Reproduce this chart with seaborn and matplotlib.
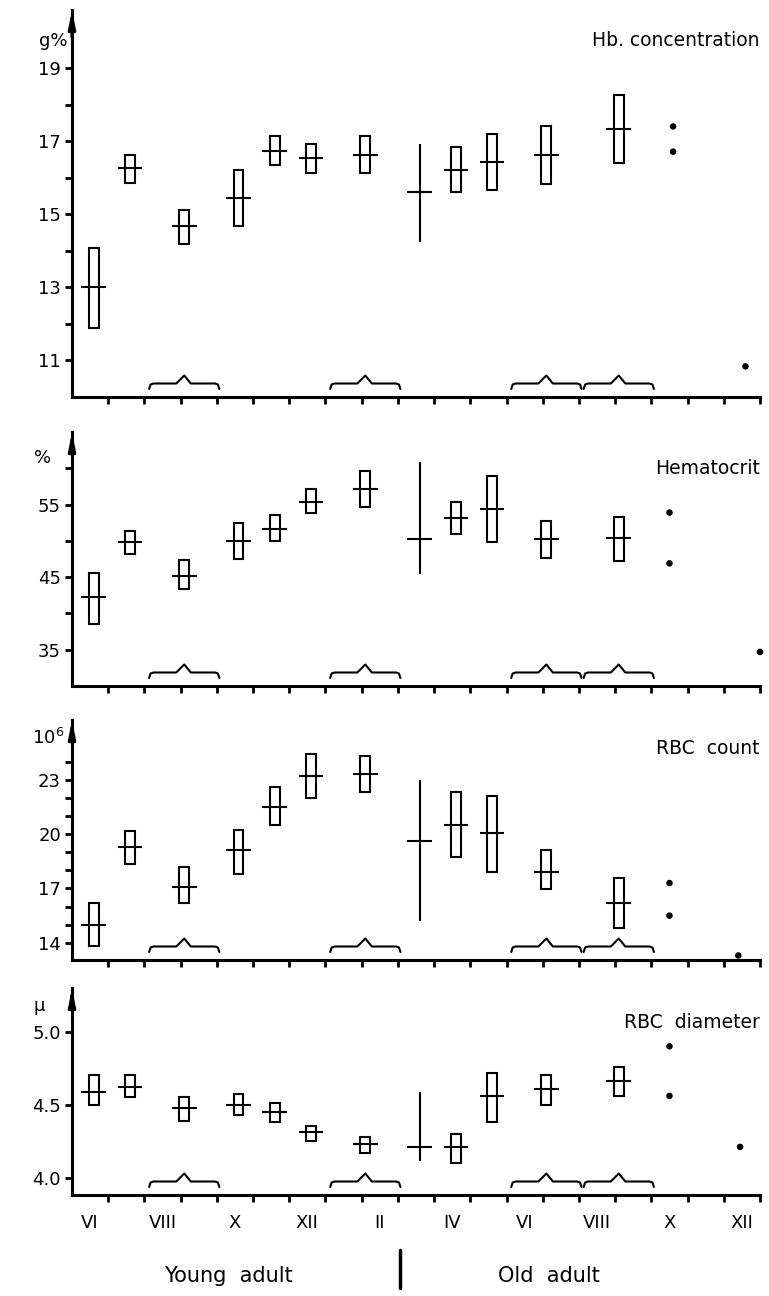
import numpy as np
import pandas as pd
import matplotlib
matplotlib.use("Agg")
import matplotlib.pyplot as plt
import matplotlib.transforms as mtransforms
from matplotlib.lines import Line2D
import seaborn as sns

# sampling positions (months from start of June)
x_pos = [0.6, 1.6, 3.1, 4.6, 5.6, 6.6, 8.1, 9.6, 10.6, 11.6, 13.1, 15.1]
kinds = ['box'] * 7 + ['range'] + ['box'] * 4
month_labels = ['VI', 'VIII', 'X', 'XII', 'II', 'IV', 'VI', 'VIII', 'X', 'XII']
brace_centers = [3.1, 8.1, 13.1, 15.1]

# Hb concentration (g%)
hb_mean = [13.0, 16.28, 14.69, 15.46, 16.75, 16.55, 16.64, 15.62, 16.22, 16.44, 16.64, 17.35]
hb_lo = [11.88, 15.87, 14.19, 14.69, 16.36, 16.14, 16.14, 14.25, 15.62, 15.68, 15.84, 16.42]
hb_hi = [14.08, 16.64, 15.13, 16.22, 17.16, 16.94, 17.16, 16.94, 16.86, 17.19, 17.43, 18.26]
hb_dot_x = [16.6, 16.6, 18.6]
hb_dot_y = [17.41, 16.72, 10.84]

# Hematocrit (%)
hct_mean = [42.2, 49.8, 45.1, 50.0, 51.7, 55.4, 57.2, 50.3, 53.1, 54.4, 50.3, 50.4]
hct_lo = [38.6, 48.2, 43.3, 47.5, 50.0, 53.9, 54.6, 45.5, 51.0, 49.8, 47.7, 47.2]
hct_hi = [45.6, 51.4, 47.3, 52.5, 53.5, 57.1, 59.6, 60.8, 55.3, 58.9, 52.8, 53.3]
hct_dot_x = [16.5, 16.5, 19.0]
hct_dot_y = [53.9, 46.9, 34.7]

# RBC count (10^6)
rbc_mean = [15.0, 19.28, 17.1, 19.1, 21.5, 23.2, 23.3, 19.6, 20.5, 20.05, 17.9, 16.2]
rbc_lo = [13.84, 18.34, 16.2, 17.8, 20.5, 22.0, 22.3, 15.2, 18.75, 17.9, 16.95, 14.8]
rbc_hi = [16.2, 20.17, 18.18, 20.2, 22.6, 24.4, 24.3, 23.0, 22.3, 22.1, 19.1, 17.6]
rbc_dot_x = [16.5, 16.5, 18.4]
rbc_dot_y = [17.3, 15.5, 13.3]

# RBC diameter (mu)
dia_mean = [4.59, 4.62, 4.48, 4.50, 4.45, 4.31, 4.23, 4.21, 4.21, 4.56, 4.61, 4.66]
dia_lo = [4.50, 4.55, 4.39, 4.43, 4.38, 4.25, 4.17, 4.11, 4.10, 4.38, 4.50, 4.56]
dia_hi = [4.70, 4.70, 4.55, 4.57, 4.51, 4.35, 4.28, 4.59, 4.30, 4.72, 4.70, 4.76]
dia_dot_x = [16.5, 16.5, 18.45]
dia_dot_y = [4.90, 4.56, 4.21]

sns.set_style("ticks")
plt.rcParams['font.family'] = ['DejaVu Sans']
for key in ['text.color', 'axes.edgecolor', 'axes.labelcolor', 'xtick.color', 'ytick.color']:
    plt.rcParams[key] = 'black'

W, H = 769, 1296
fig = plt.figure(figsize=(W / 100, H / 100), dpi=100)

# panel specs: title, unit, data, ylim, ticks, top/bottom px, unit label pos, title y
panels = [
    dict(title="Hb. concentration", unit="g%", mean=hb_mean, lo=hb_lo, hi=hb_hi,
         dx=hb_dot_x, dy=hb_dot_y, ylim=(10, 20.6), major=[11, 13, 15, 17, 19],
         minor=[12, 14, 16, 18], fmt="{:.0f}", top=10, bot=397, upos=(53, 41), ty=41),
    dict(title="Hematocrit", unit="%", mean=hct_mean, lo=hct_lo, hi=hct_hi,
         dx=hct_dot_x, dy=hct_dot_y, ylim=(30, 65), major=[35, 45, 55],
         minor=[40, 50, 60], fmt="{:.0f}", top=432, bot=686, upos=(43, 458), ty=468),
    dict(title="RBC  count", unit="10$^6$", mean=rbc_mean, lo=rbc_lo, hi=rbc_hi,
         dx=rbc_dot_x, dy=rbc_dot_y, ylim=(13.05, 26.3), major=[14, 17, 20, 23],
         minor=[15, 16, 18, 19, 21, 22, 24], fmt="{:.0f}", top=720, bot=960, upos=(48, 738), ty=748),
    dict(title="RBC  diameter", unit="µ", mean=dia_mean, lo=dia_lo, hi=dia_hi,
         dx=dia_dot_x, dy=dia_dot_y, ylim=(3.88, 5.3), major=[4.0, 4.5, 5.0],
         minor=[], fmt="{:.1f}", top=988, bot=1195, upos=(39, 1006), ty=1022),
]

left_px, right_px = 72, 760
for i, p in enumerate(panels):
    ax = fig.add_axes([left_px / W, 1 - p['bot'] / H, (right_px - left_px) / W, (p['bot'] - p['top']) / H])
    df = pd.DataFrame({'x': x_pos, 'mean': p['mean'], 'lo': p['lo'], 'hi': p['hi'], 'kind': kinds})
    boxes = df[df['kind'] == 'box']
    ranges = df[df['kind'] == 'range']

    ax.bar(boxes['x'], boxes['hi'] - boxes['lo'], bottom=boxes['lo'], width=0.27,
           fill=False, edgecolor='black', linewidth=1.5)
    ax.vlines(ranges['x'], ranges['lo'], ranges['hi'], color='black', linewidth=1.5)
    ax.hlines(df['mean'], df['x'] - 0.34, df['x'] + 0.34, color='black', linewidth=1.5)

    dots = pd.DataFrame({'x': p['dx'], 'y': p['dy']})
    sns.scatterplot(data=dots, x='x', y='y', ax=ax, color='black', s=22,
                    edgecolor='none', clip_on=False, legend=False)

    ax.set_xlim(0, 19)
    ax.set_ylim(*p['ylim'])
    ax.set_xlabel("")
    ax.set_ylabel("")
    sns.despine(ax=ax)
    for s in ['left', 'bottom']:
        ax.spines[s].set_linewidth(2.2)

    ax.set_yticks(p['major'])
    ax.set_yticklabels([p['fmt'].format(v) for v in p['major']], fontsize=13)
    ax.set_yticks(p['minor'], minor=True)
    ax.set_xticks(np.arange(1, 20))
    ax.set_xticklabels([])
    ax.tick_params(axis='both', which='major', direction='out', length=5, width=2, pad=3)
    ax.tick_params(axis='y', which='minor', direction='out', length=5, width=2)

    if i == len(panels) - 1:
        ax.set_xticks(np.arange(0.5, 19, 2), minor=True)
        ax.set_xticklabels(month_labels, minor=True, fontsize=13)
        ax.tick_params(axis='x', which='minor', length=0, pad=14)

    # arrow on y axis
    ax.annotate('', xy=(0, 1.0), xytext=(0, 0.93), xycoords='axes fraction',
                arrowprops=dict(arrowstyle='-|>,head_width=0.2,head_length=1.0',
                                color='black', lw=2.2, shrinkA=0, shrinkB=0),
                annotation_clip=False)

    # braces marking pooled samples
    h_px = ax.bbox.height
    trans = mtransforms.blended_transform_factory(ax.transData, ax.transAxes)
    bx = np.array([-0.97, -0.93, -0.85, -0.22, 0.0, 0.18, 0.85, 0.93, 0.97])
    by = np.array([8, 12.5, 13.5, 13.5, 21.5, 13.5, 13.5, 12.5, 8]) / h_px
    for c in brace_centers:
        ax.plot(c + bx, by, color='black', linewidth=1.5, transform=trans, clip_on=False)

    fig.text(p['upos'][0] / W, 1 - p['upos'][1] / H, p['unit'], fontsize=13,
             ha='center', va='center')
    fig.text(760 / W, 1 - p['ty'] / H, p['title'], fontsize=13.5, ha='right', va='center')

fig.text(228 / W, 1 - 1276 / H, "Young  adult", fontsize=15, ha='center', va='center')
fig.text(549 / W, 1 - 1276 / H, "Old  adult", fontsize=15, ha='center', va='center')
fig.add_artist(Line2D([400 / W, 400 / W], [1 - 1250 / H, 1 - 1288 / H], color='black', linewidth=2.5))

fig.savefig("out.png", dpi=100)
